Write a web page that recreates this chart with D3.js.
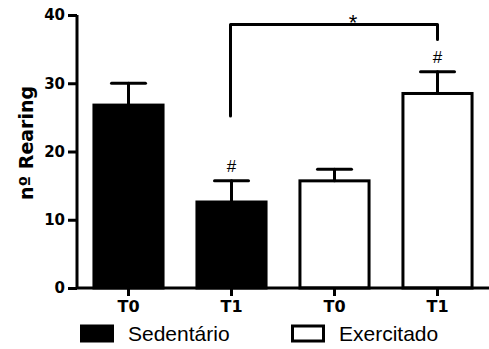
<!DOCTYPE html>
<html>
<head>
<meta charset="utf-8">
<script src="https://cdn.jsdelivr.net/npm/d3@7"></script>
<style>
  body { margin: 0; background: #fff; }
  svg { display: block; }
</style>
</head>
<body>
<svg id="chart"></svg>
<script>
// dados do gráfico
const groups = ["Sedentário", "Sedentário", "Exercitado", "Exercitado"];
const tickLabels = ["T0", "T1", "T0", "T1"];
const means = [26.8, 12.6, 15.7, 28.5];
const sems = [3.2, 3.1, 1.7, 3.2];
const hashMarks = [false, true, false, true];
const yTicks = [0, 10, 20, 30, 40];
const legendItems = ["Sedentário", "Exercitado"];
// colchete de significância: barra 1 -> barra 3
const bracketFrom = 1, bracketTo = 3;
const bracketLevels = [25.2, 38.6, 36.4]; // ponta esq., topo, ponta dir.

const W = 489, H = 349;
const svg = d3.select("#chart").attr("width", W).attr("height", H);

const x = d3.scaleBand()
  .domain(d3.range(means.length))
  .range([77, 489])
  .paddingInner(0.3)
  .paddingOuter(0.15);

const y = d3.scaleLinear().domain([0, 40]).range([288, 15]);

const fill = g => g === "Sedentário" ? "#000" : "#fff";
const cx = i => x(i) + x.bandwidth() / 2;

// barras
svg.append("g")
  .selectAll("rect")
  .data(means)
  .join("rect")
  .attr("x", (d, i) => x(i) + 1.5)
  .attr("y", d => y(d))
  .attr("width", x.bandwidth() - 3)
  .attr("height", d => y(0) - y(d))
  .attr("fill", (d, i) => fill(groups[i]))
  .attr("stroke", "#000")
  .attr("stroke-width", 3);

// barras de erro
const err = svg.append("g")
  .attr("stroke", "#000")
  .attr("stroke-width", 3)
  .attr("stroke-linecap", "round");

err.selectAll(".stem")
  .data(means)
  .join("line")
  .attr("x1", (d, i) => cx(i))
  .attr("x2", (d, i) => cx(i))
  .attr("y1", d => y(d))
  .attr("y2", (d, i) => y(d + sems[i]));

err.selectAll(".cap")
  .data(means)
  .join("line")
  .attr("x1", (d, i) => cx(i) - 17)
  .attr("x2", (d, i) => cx(i) + 17)
  .attr("y1", (d, i) => y(d + sems[i]))
  .attr("y2", (d, i) => y(d + sems[i]));

// marcas #
const hashIdx = d3.range(means.length).filter(i => hashMarks[i]);
svg.append("g")
  .selectAll("text")
  .data(hashIdx)
  .join("text")
  .attr("x", i => cx(i))
  .attr("y", i => y(means[i] + sems[i]) - 9)
  .attr("text-anchor", "middle")
  .attr("font-family", "Liberation Sans, Arial, sans-serif")
  .attr("font-size", 17)
  .text("#");

// colchete *
const bx1 = cx(bracketFrom), bx2 = cx(bracketTo);
svg.append("path")
  .attr("fill", "none")
  .attr("stroke", "#000")
  .attr("stroke-width", 3)
  .attr("stroke-linecap", "round")
  .attr("stroke-linejoin", "round")
  .attr("d", `M${bx1 - 1},${y(bracketLevels[0])}V${y(bracketLevels[1])}H${bx2}V${y(bracketLevels[2])}`);

svg.append("text")
  .attr("x", 353)
  .attr("y", 30)
  .attr("text-anchor", "middle")
  .attr("font-family", "Liberation Sans, Arial, sans-serif")
  .attr("font-size", 22)
  .text("*");

// eixo y
const yAxis = svg.append("g")
  .attr("transform", "translate(77,0)")
  .call(d3.axisLeft(y).tickValues(yTicks).tickSize(9).tickPadding(3));
yAxis.select(".domain").attr("stroke-width", 3).attr("d", `M0,${y(40)}V${y(0)}`);
yAxis.selectAll(".tick line").attr("stroke-width", 3);
yAxis.selectAll(".tick text")
  .attr("font-family", "DejaVu Sans, sans-serif")
  .attr("font-weight", "bold")
  .attr("font-size", 15)
  .attr("fill", "#000");

// eixo x
const xAxis = svg.append("g")
  .attr("transform", `translate(0,${y(0)})`)
  .call(d3.axisBottom(x).tickFormat(i => tickLabels[i]).tickSize(8).tickPadding(5));
xAxis.select(".domain").attr("stroke-width", 3).attr("d", `M77,0H489`);
xAxis.selectAll(".tick line").attr("stroke-width", 3);
xAxis.selectAll(".tick text")
  .attr("font-family", "DejaVu Sans, sans-serif")
  .attr("font-weight", "bold")
  .attr("font-size", 16)
  .attr("fill", "#000");

// título y
svg.append("text")
  .attr("transform", `translate(33,143) rotate(-90)`)
  .attr("text-anchor", "middle")
  .attr("font-family", "DejaVu Sans, sans-serif")
  .attr("font-weight", "bold")
  .attr("font-size", 19)
  .text("nº Rearing");

// legenda
const legX = [80, 291];
const leg = svg.append("g")
  .selectAll("g")
  .data(legendItems)
  .join("g")
  .attr("transform", (d, i) => `translate(${legX[i]},0)`);
leg.append("rect")
  .attr("x", 1.5)
  .attr("y", 326)
  .attr("width", 31)
  .attr("height", 15)
  .attr("fill", d => fill(d))
  .attr("stroke", "#000")
  .attr("stroke-width", 3);
leg.append("text")
  .attr("x", 48)
  .attr("y", 341)
  .attr("font-family", "Liberation Sans, Arial, sans-serif")
  .attr("font-size", 21)
  .text(d => d);
</script>
</body>
</html>
